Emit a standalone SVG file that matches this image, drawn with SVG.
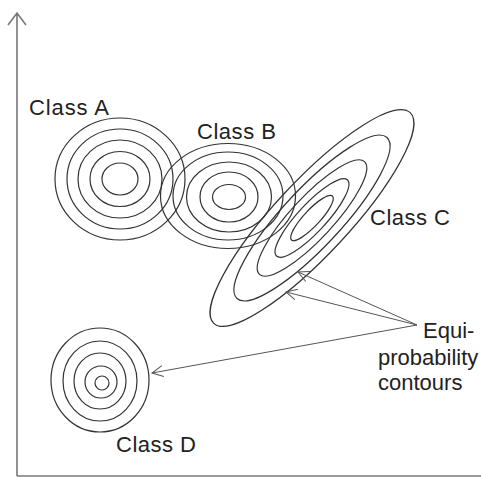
<svg xmlns="http://www.w3.org/2000/svg" width="481" height="481" viewBox="0 0 481 481">
<style>
.c{fill:none;stroke:#333;stroke-width:1.2}
.ax{fill:none;stroke:#777;stroke-width:1.6}
.ar{fill:none;stroke:#555;stroke-width:1}
text{font-family:"Liberation Sans",Arial,sans-serif;font-size:22px;fill:#222}
</style>
<defs>
<marker id="v" viewBox="0 0 12 12" refX="11" refY="6" markerWidth="12" markerHeight="12" markerUnits="userSpaceOnUse" orient="auto">
<path d="M0,0.5 L11,6 L0,11.5" fill="none" stroke="#555" stroke-width="1"/>
</marker>
</defs>
<g id="axes">
<path class="ax" d="M17,476 V13 M8,25 L17,13 L26,25"/>
<path class="ax" d="M17,476 H481"/>
</g>
<g id="classA">
<g class="c">
<ellipse cx="120" cy="179" rx="18" ry="16"/>
<ellipse cx="120" cy="179" rx="30" ry="27.5"/>
<ellipse cx="120" cy="179" rx="42" ry="39"/>
<ellipse cx="120" cy="179" rx="53" ry="50"/>
<ellipse cx="120" cy="179" rx="65" ry="61"/>
</g>
<text x="29" y="115" textLength="80">Class A</text>
</g>
<g id="classB">
<g class="c">
<ellipse cx="229" cy="197" rx="16.5" ry="12.5"/>
<ellipse cx="229" cy="197" rx="29" ry="25"/>
<ellipse cx="229" cy="197" rx="42.5" ry="35"/>
<ellipse cx="228" cy="196" rx="55" ry="44"/>
<ellipse cx="228" cy="196" rx="67.5" ry="52.5"/>
</g>
<text x="197" y="139" textLength="79">Class B</text>
</g>
<g id="classC">
<g class="c" transform="translate(312,218) rotate(-47)">
<ellipse cx="0" cy="0" rx="30" ry="8"/>
<ellipse cx="0" cy="0" rx="52" ry="14"/>
<ellipse cx="0" cy="0" rx="77" ry="21"/>
<ellipse cx="0" cy="0" rx="110" ry="29"/>
<ellipse cx="0" cy="0" rx="144" ry="37"/>
</g>
<text x="370" y="225" textLength="80">Class C</text>
</g>
<g id="classD">
<g class="c">
<ellipse cx="102" cy="383" rx="7" ry="7"/>
<ellipse cx="101" cy="382" rx="16" ry="16"/>
<ellipse cx="100" cy="381" rx="26" ry="28"/>
<ellipse cx="100" cy="381" rx="37" ry="40"/>
<ellipse cx="100" cy="380" rx="49" ry="52"/>
</g>
<text x="116" y="452" textLength="80">Class D</text>
</g>
<g id="label">
<text x="423" y="338">Equi-</text>
<text x="378" y="365">probability</text>
<text x="378" y="390">contours</text>
</g>
<g id="connectors">
<line class="ar" x1="417" y1="325" x2="298" y2="272" marker-end="url(#v)"/>
<line class="ar" x1="417" y1="325" x2="286" y2="292" marker-end="url(#v)"/>
<line class="ar" x1="417" y1="325" x2="152" y2="373" marker-end="url(#v)"/>
</g>
</svg>
